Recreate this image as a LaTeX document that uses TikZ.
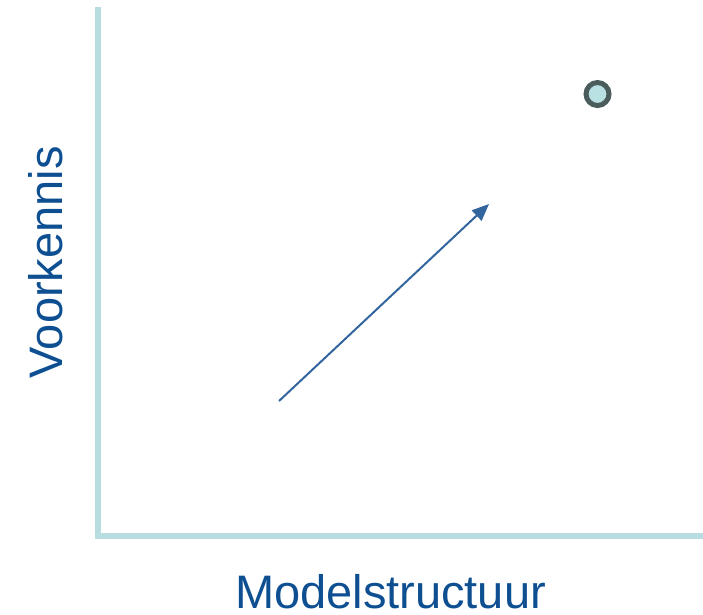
\documentclass[tikz,border=0pt]{standalone}
\usepackage{fontspec}
\setmainfont{Liberation Sans}
\usetikzlibrary{arrows.meta}
\definecolor{axiscol}{HTML}{B7DDE0}
\definecolor{textcol}{HTML}{0E4F92}
\definecolor{arrowcol}{HTML}{33669E}
\definecolor{dotfill}{HTML}{B9E0E2}
\definecolor{dotline}{HTML}{4A5C5C}
\tikzset{
  axisline/.style={draw=axiscol, line width=6pt},
  label/.style={text=textcol, inner sep=0pt, font=\fontsize{47}{56}\selectfont},
  trendarrow/.style={draw=arrowcol, line width=2pt, -{Triangle[length=17pt,width=14pt]}},
  dot/.style={circle, fill=dotfill, draw=dotline, line width=5pt, minimum size=23pt, inner sep=0pt}
}
\begin{document}
\begin{tikzpicture}[x=1pt,y=-1pt]
\useasboundingbox (0,0) rectangle (703,614);
\coordinate (ytop) at (98,7);
\coordinate (ybot) at (98,539);
\coordinate (xstart) at (95,536);
\coordinate (xend) at (703,536);
\draw[axisline] (ytop) -- (ybot);
\draw[axisline] (xstart) -- (xend);
\coordinate (a) at (279,401);
\coordinate (b) at (489,204);
\draw[trendarrow] (a) -- (b);
\node[dot] (point) at (597.5,94) {};
\node[label, anchor=base, rotate=90] (ylab) at (62,262.5) {Voorkennis};
\node[label, anchor=base] (xlab) at (390.5,608) {Modelstructuur};
\end{tikzpicture}
\end{document}
